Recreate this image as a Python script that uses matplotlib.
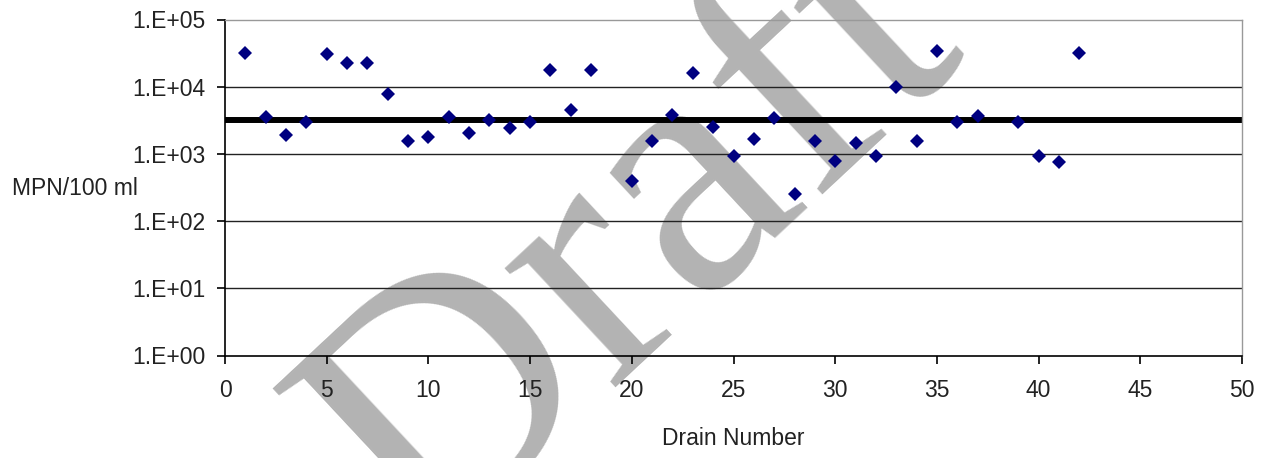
import matplotlib.pyplot as plt
from matplotlib.ticker import FixedLocator, FixedFormatter

# Data
drain = [1, 2, 3, 4, 5, 6, 7, 8, 9, 10, 11, 12, 13, 14, 15, 16, 17, 18,
         20, 21, 22, 23, 24, 25, 26, 27, 28, 29, 30, 31, 32, 33, 34, 35,
         36, 37, 39, 40, 41, 42]
mpn = [32000, 3500, 1940, 2960, 30500, 22400, 22400, 7800, 1540, 1800,
       3500, 2050, 3200, 2400, 2960, 17900, 4550, 17900,
       393, 1540, 3800, 15800, 2550, 920, 1670, 3430, 255, 1540, 796, 1440,
       920, 10000, 1540, 34300, 2960, 3700, 2960, 920, 751, 32000]
standard = 3200
x_ticks = [0, 5, 10, 15, 20, 25, 30, 35, 40, 45, 50]
y_ticks = [1, 10, 100, 1000, 10000, 100000]
y_labels = ["1.E+00", "1.E+01", "1.E+02", "1.E+03", "1.E+04", "1.E+05"]

plt.rcParams['font.family'] = ['Liberation Sans', 'DejaVu Sans']
fs = 16.5
txt = '#222222'

fig = plt.figure(figsize=(12.68, 4.58), dpi=100)
ax = fig.add_axes([225 / 1268, 1 - 355.5 / 458, (1242 - 225) / 1268, (355.5 - 19.5) / 458])

# "Draft" watermark behind the chart
fig.text(0.502, 0.472, "Draft", family='Liberation Serif', fontsize=255,
         color='#b3b3b3', rotation=43, ha='center', va='center', zorder=-1)
ax.set_facecolor('none')

ax.set_yscale('log')
ax.set_xlim(0, 50)
ax.set_ylim(1, 100000)

# horizontal grid
for v in y_ticks[1:-1]:
    ax.axhline(v, color='#222222', lw=1.0, zorder=1)

ax.axhline(standard, color='black', lw=4.3, zorder=2)
ax.plot(drain, mpn, linestyle='none', marker='D', markersize=7.5,
        color='#000080', markeredgewidth=0, zorder=3)

ax.yaxis.set_major_locator(FixedLocator(y_ticks))
ax.yaxis.set_major_formatter(FixedFormatter(y_labels))
ax.yaxis.set_minor_locator(FixedLocator([]))
ax.set_xticks(x_ticks)

for s in ['top', 'right']:
    ax.spines[s].set_color('#999999')
    ax.spines[s].set_linewidth(1.0)
for s in ['left', 'bottom']:
    ax.spines[s].set_color('black')
    ax.spines[s].set_linewidth(1.2)

ax.tick_params(axis='both', direction='out', length=6, width=1.2,
               labelsize=fs, labelcolor=txt)
ax.tick_params(axis='y', pad=8)
ax.tick_params(axis='x', pad=11)

ax.set_xlabel("Drain Number", fontsize=fs, color=txt, labelpad=18)
fig.text(12 / 1268, 1 - 188 / 458, "MPN/100 ml", fontsize=fs,
         color=txt, ha='left', va='center')

fig.savefig("out.png", dpi=100)
